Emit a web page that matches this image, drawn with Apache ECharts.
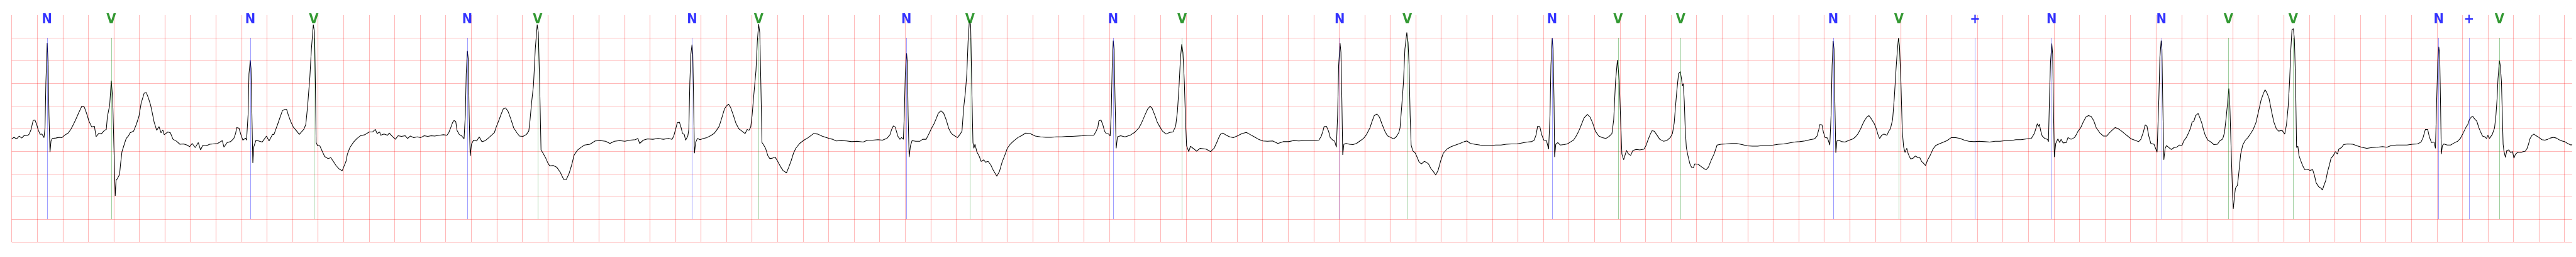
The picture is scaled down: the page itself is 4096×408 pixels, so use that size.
<!DOCTYPE html>
<html><head><meta charset="utf-8">
<script src="https://cdn.jsdelivr.net/npm/echarts@6/dist/echarts.min.js"></script>
<style>html,body{margin:0;padding:0;background:#fff}#c{width:4096px;height:408px}</style>
</head><body><div id="c"></div>
<script>
// Beat annotations (time in s)
const annTimes = [0.277, 0.780, 1.869, 2.366, 3.569, 4.120, 5.331, 5.852, 7.010, 7.508, 8.629, 9.170, 10.404, 10.933, 12.068, 12.585, 13.076, 14.271, 14.785, 15.382, 15.982, 16.842, 17.367, 17.874, 19.014, 19.252, 19.491];
const annLabels = ['N','V','N','V','N','V','N','V','N','V','N','V','N','V','N','V','V','N','V','+','N','N','V','V','N','+','V'];
const labelColors = {'N':'#0000ff','V':'#008000','+':'#0000ff'};
const markerColors = {'N':'rgba(0,0,255,0.55)','V':'rgba(0,128,0,0.55)','+':'rgba(0,0,255,0.55)'};
// Axis ranges (s, mV)
const xRange = [0, 20.06, 0.2];
const yRange = [-2.5, 2.5, 0.5];
const markerSpan = [2.0, -2.0];
const labelLevel = 2.4;
// ECG signal: [time s, mV]
const signal = [
[0,-0.23],[0.018,-0.195],[0.038,-0.23],[0.059,-0.17],[0.079,-0.21],[0.1,-0.148],[0.127,-0.152],[0.138,-0.12],[0.152,-0.02],[0.168,0.177],[0.182,0.188],[0.196,0.087],[0.209,-0.04],[0.223,-0.13],[0.237,-0.12],[0.253,-0.2],[0.261,0.014],[0.268,1.03],[0.278,1.886],[0.285,1.46],[0.292,0.3],[0.3,-0.52],[0.308,-0.27],[0.319,-0.22],[0.346,-0.21],[0.374,-0.195],[0.394,-0.2],[0.415,-0.148],[0.442,-0.1],[0.463,-0.02],[0.483,0.087],[0.504,0.213],[0.524,0.34],[0.549,0.49],[0.568,0.477],[0.586,0.34],[0.606,0.16],[0.627,0.033],[0.648,0.05],[0.661,-0.18],[0.682,-0.11],[0.702,-0.12],[0.727,-0.04],[0.741,-0.02],[0.75,0.267],[0.768,0.52],[0.78,1.055],[0.791,0.665],[0.801,-0.42],[0.811,-1.485],[0.818,-1.14],[0.828,-1.105],[0.845,-1.015],[0.853,-0.78],[0.864,-0.51],[0.883,-0.34],[0.897,-0.22],[0.914,-0.166],[0.928,-0.094],[0.955,-0.058],[0.976,0.087],[0.997,0.267],[1.014,0.556],[1.038,0.78],[1.055,0.79],[1.072,0.665],[1.088,0.52],[1.099,0.376],[1.116,0.14],[1.136,-0.04],[1.154,0.043],[1.17,-0.094],[1.184,-0.03],[1.195,-0.137],[1.223,-0.076],[1.243,-0.094],[1.264,-0.238],[1.291,-0.28],[1.318,-0.347],[1.346,-0.34],[1.373,-0.365],[1.394,-0.4],[1.414,-0.33],[1.438,-0.42],[1.462,-0.31],[1.48,-0.473],[1.496,-0.376],[1.524,-0.383],[1.551,-0.347],[1.578,-0.34],[1.613,-0.33],[1.65,-0.267],[1.663,-0.41],[1.688,-0.31],[1.715,-0.29],[1.74,-0.22],[1.754,-0.112],[1.763,0.022],[1.781,0.007],[1.797,-0.148],[1.811,-0.257],[1.832,-0.213],[1.84,-0.257],[1.852,0.3],[1.859,1.207],[1.869,1.503],[1.875,1.315],[1.882,0.3],[1.889,-0.762],[1.897,-0.4],[1.914,-0.257],[1.934,-0.275],[1.962,-0.3],[1.996,-0.166],[2.016,-0.275],[2.044,-0.13],
[2.055,-0.13],[2.069,-0.02],[2.082,0.08],[2.103,0.25],[2.121,0.394],[2.14,0.42],[2.154,0.42],[2.167,0.3],[2.185,0.16],[2.206,0.033],[2.233,-0.058],[2.253,-0.13],[2.288,-0.02],[2.304,0.087],[2.318,0.484],[2.336,1.134],[2.348,1.75],[2.363,2.29],[2.373,2.11],[2.379,1.026],[2.385,-0.31],[2.397,-0.383],[2.414,-0.383],[2.431,-0.49],[2.452,-0.618],[2.479,-0.665],[2.5,-0.643],[2.52,-0.726],[2.541,-0.816],[2.564,-0.889],[2.589,-0.932],[2.603,-0.835],[2.619,-0.726],[2.63,-0.564],[2.65,-0.42],[2.678,-0.3],[2.705,-0.22],[2.733,-0.159],[2.767,-0.137],[2.801,-0.076],[2.828,-0.076],[2.849,-0.02],[2.863,-0.112],[2.883,-0.076],[2.89,-0.148],[2.917,-0.12],[2.945,-0.148],[2.958,-0.1],[2.979,-0.166],[3.006,-0.238],[3.027,-0.159],[3.054,-0.173],[3.082,-0.159],[3.102,-0.22],[3.123,-0.166],[3.15,-0.2],[3.177,-0.184],[3.205,-0.2],[3.232,-0.159],[3.26,-0.173],[3.287,-0.159],[3.314,-0.166],[3.349,-0.148],[3.383,-0.137],[3.41,-0.148],[3.424,-0.094],[3.44,0.022],[3.454,0.13],[3.465,0.177],[3.479,0.152],[3.489,-0.04],[3.506,-0.13],[3.527,-0.166],[3.544,-0.23],[3.554,0.3],[3.561,1.207],[3.57,1.712],[3.577,1.53],[3.584,0.3],[3.592,-0.607],[3.602,-0.347],[3.618,-0.257],[3.643,-0.275],[3.663,-0.184],[3.684,-0.29],[3.711,-0.267],[3.739,-0.2],[3.766,-0.13],[3.782,-0.087],[3.796,0.033],[3.814,0.16],[3.835,0.32],[3.851,0.43],[3.869,0.455],[3.889,0.376],[3.91,0.213],[3.933,0.014],[3.958,-0.094],[3.978,-0.166],[4.006,-0.173],[4.033,-0.13],[4.051,-0.058],[4.06,0.16],[4.074,0.592],[4.088,0.954],[4.102,1.75],[4.117,2.29],[4.126,2.11],[4.136,1.026],[4.147,-0.473],[4.163,-0.545],[4.184,-0.654],[4.201,-0.762],
[4.215,-0.824],[4.243,-0.816],[4.27,-0.853],[4.297,-0.961],[4.325,-1.124],[4.345,-1.124],[4.366,-0.997],[4.386,-0.816],[4.407,-0.582],[4.434,-0.473],[4.462,-0.412],[4.489,-0.365],[4.53,-0.347],[4.571,-0.275],[4.612,-0.267],[4.653,-0.28],[4.687,-0.33],[4.722,-0.28],[4.763,-0.267],[4.804,-0.28],[4.845,-0.257],[4.886,-0.246],[4.906,-0.22],[4.92,-0.33],[4.948,-0.257],[4.982,-0.23],[5.023,-0.238],[5.064,-0.22],[5.105,-0.238],[5.146,-0.22],[5.173,-0.238],[5.187,-0.166],[5.201,-0.02],[5.215,0.13],[5.231,0.14],[5.245,0.014],[5.256,-0.112],[5.269,-0.13],[5.28,-0.257],[5.297,-0.166],[5.305,-0.02],[5.313,1.026],[5.321,1.64],[5.33,1.85],[5.336,1.64],[5.342,0.665],[5.349,-0.545],[5.358,-0.31],[5.372,-0.22],[5.393,-0.246],[5.42,-0.22],[5.447,-0.2],[5.475,-0.159],[5.502,-0.112],[5.522,-0.04],[5.543,0.05],[5.563,0.231],[5.584,0.43],[5.598,0.49],[5.616,0.538],[5.632,0.466],[5.653,0.3],[5.673,0.123],[5.696,-0.004],[5.721,-0.058],[5.746,-0.112],[5.762,-0.02],[5.776,-0.04],[5.79,0.033],[5.801,0.3],[5.814,0.737],[5.831,1.28],[5.842,1.93],[5.852,2.3],[5.861,2.11],[5.869,1.026],[5.878,-0.31],[5.888,-0.347],[5.906,-0.437],[5.924,-0.6],[5.94,-0.665],[5.961,-0.654],[5.981,-0.63],[5.998,-0.708],[6.022,-0.835],[6.043,-0.925],[6.07,-0.979],[6.088,-0.853],[6.107,-0.708],[6.125,-0.545],[6.143,-0.437],[6.173,-0.33],[6.207,-0.257],[6.241,-0.2],[6.282,-0.112],[6.316,-0.123],[6.348,-0.166],
[6.377,-0.195],[6.404,-0.22],[6.432,-0.238],[6.459,-0.275],[6.5,-0.267],[6.541,-0.275],[6.582,-0.29],[6.623,-0.28],[6.671,-0.3],[6.705,-0.257],[6.746,-0.257],[6.787,-0.246],[6.822,-0.257],[6.856,-0.22],[6.881,-0.137],[6.894,-0.02],[6.908,0.058],[6.922,0.033],[6.931,-0.058],[6.942,-0.166],[6.959,-0.238],[6.972,-0.2],[6.986,-0.238],[6.993,0.3],[7.001,1.207],[7.011,1.66],[7.017,1.46],[7.023,0.3],[7.031,-0.63],[7.041,-0.383],[7.054,-0.267],[7.082,-0.28],[7.116,-0.28],[7.137,-0.238],[7.164,-0.238],[7.187,-0.112],[7.205,-0.004],[7.226,0.105],[7.246,0.238],[7.26,0.34],[7.28,0.39],[7.301,0.34],[7.321,0.195],[7.342,-0.004],[7.362,-0.112],[7.39,-0.166],[7.41,-0.2],[7.431,-0.123],[7.445,-0.058],[7.458,0.448],[7.472,0.81],[7.483,1.207],[7.493,1.93],[7.503,2.38],[7.513,2.29],[7.521,1.026],[7.531,-0.31],[7.538,-0.437],[7.547,-0.347],[7.561,-0.51],[7.581,-0.618],[7.595,-0.726],[7.616,-0.69],[7.629,-0.744],[7.65,-0.726],[7.67,-0.798],[7.691,-0.925],[7.718,-1.051],[7.739,-0.943],[7.759,-0.744],[7.784,-0.564],[7.8,-0.437],[7.821,-0.354],[7.848,-0.28],[7.883,-0.2],[7.91,-0.159],[7.944,-0.1],[7.978,-0.112],[8.02,-0.166],[8.06,-0.184],[8.102,-0.195],[8.143,-0.195],[8.184,-0.184],[8.225,-0.184],[8.266,-0.173],[8.307,-0.173],[8.348,-0.166],[8.389,-0.159],[8.43,-0.148],[8.478,-0.148],
[8.496,-0.058],[8.51,0.033],[8.517,0.166],[8.534,0.188],[8.548,0.087],[8.562,-0.058],[8.575,-0.112],[8.595,-0.123],[8.606,-0.166],[8.614,0.3],[8.622,1.387],[8.63,1.936],[8.637,1.75],[8.644,0.665],[8.653,-0.437],[8.663,-0.184],[8.688,-0.159],[8.722,-0.184],[8.763,-0.148],[8.797,-0.087],[8.831,0.014],[8.852,0.123],[8.879,0.3],[8.9,0.43],[8.918,0.49],[8.934,0.448],[8.955,0.3],[8.975,0.14],[8.996,0.033],[9.016,-0.058],[9.044,-0.123],[9.071,-0.087],[9.098,-0.076],[9.119,0.05],[9.133,0.376],[9.146,0.954],[9.157,1.568],[9.167,1.857],[9.176,1.676],[9.187,1.026],[9.197,0.123],[9.205,-0.383],[9.222,-0.51],[9.235,-0.39],[9.256,-0.437],[9.283,-0.5],[9.311,-0.437],[9.358,-0.455],[9.393,-0.51],[9.42,-0.437],[9.441,-0.31],[9.454,-0.22],[9.471,-0.123],[9.488,-0.1],[9.516,-0.148],[9.543,-0.184],[9.571,-0.2],[9.605,-0.159],[9.639,-0.112],[9.673,-0.087],[9.701,-0.13],[9.735,-0.184],[9.769,-0.238],[9.803,-0.275],[9.838,-0.28],[9.879,-0.275],[9.92,-0.33],[9.961,-0.29],[10.002,-0.29],[10.043,-0.267],[10.084,-0.275],[10.125,-0.267],[10.166,-0.267],[10.207,-0.267],[10.241,-0.257],[10.259,-0.173],[10.273,-0.058],[10.282,0.043],[10.3,0.05],[10.317,-0.058],[10.33,-0.2],[10.351,-0.257],[10.365,-0.28],[10.378,-0.412],[10.388,0.3],[10.396,1.387],[10.407,1.886],[10.414,1.676],[10.421,0.665],[10.428,-0.582],[10.437,-0.347],[10.454,-0.33],[10.481,-0.347],[10.508,-0.354],[10.536,-0.33],[10.563,-0.275],[10.591,-0.22],[10.615,-0.13],[10.641,0.014],
[10.658,0.16],[10.675,0.285],[10.696,0.32],[10.716,0.25],[10.737,0.087],[10.758,-0.058],[10.778,-0.159],[10.806,-0.2],[10.826,-0.23],[10.847,-0.184],[10.867,-0.094],[10.877,0.014],[10.89,0.484],[10.904,1.026],[10.915,1.75],[10.93,2.117],[10.94,1.893],[10.948,1.387],[10.956,0.3],[10.964,-0.365],[10.977,-0.49],[10.997,-0.545],[11.011,-0.636],[11.027,-0.744],[11.045,-0.78],[11.066,-0.726],[11.082,-0.744],[11.1,-0.78],[11.12,-0.889],[11.141,-0.961],[11.157,-1.026],[11.175,-0.925],[11.196,-0.708],[11.216,-0.545],[11.244,-0.455],[11.278,-0.4],[11.312,-0.365],[11.346,-0.33],[11.38,-0.29],[11.401,-0.275],[11.428,-0.33],[11.462,-0.347],[11.503,-0.365],[11.545,-0.376],[11.586,-0.376],[11.627,-0.365],[11.668,-0.365],[11.709,-0.347],[11.75,-0.34],[11.791,-0.34],[11.832,-0.318],[11.873,-0.3],[11.908,-0.29],[11.928,-0.257],[11.942,-0.148],[11.955,0.05],[11.972,0.043],[11.986,-0.13],[12.003,-0.257],[12.024,-0.267],[12.041,-0.455],[12.052,0.3],[12.059,1.387],[12.069,1.994],[12.076,1.75],[12.083,0.665],[12.088,-0.63],[12.097,-0.347],[12.113,-0.31],[12.133,-0.365],[12.161,-0.354],[12.188,-0.34],[12.216,-0.29],[12.236,-0.257],[12.257,-0.166],[12.277,-0.058],[12.298,0.087],[12.318,0.231],[12.345,0.31],[12.366,0.25],[12.386,0.123],[12.407,-0.058],[12.434,-0.166],[12.462,-0.2],[12.489,-0.22],[12.516,-0.173],[12.537,-0.112],[12.551,0.195],[12.565,1.026],[12.58,1.514],[12.588,1.279],[12.596,0.954],[12.606,0.123],[12.615,-0.564],[12.629,-0.69],[12.651,-0.484],[12.667,-0.564],[12.684,-0.592],[12.701,-0.484],[12.729,-0.462],[12.756,-0.473],[12.788,-0.455],
[12.803,-0.383],[12.819,-0.257],[12.837,-0.13],[12.851,-0.05],[12.868,-0.058],[12.888,-0.137],[12.912,-0.238],[12.94,-0.28],[12.967,-0.267],[12.994,-0.2],[13.011,-0.112],[13.025,0.123],[13.035,0.484],[13.046,0.845],[13.059,1.207],[13.072,1.254],[13.082,1.098],[13.089,0.936],[13.096,0.99],[13.104,0.592],[13.111,0.014],[13.12,-0.42],[13.134,-0.618],[13.148,-0.78],[13.161,-0.853],[13.175,-0.87],[13.186,-0.78],[13.213,-0.788],[13.234,-0.835],[13.261,-0.889],[13.275,-0.907],[13.293,-0.853],[13.316,-0.69],[13.337,-0.564],[13.361,-0.365],[13.391,-0.347],[13.432,-0.34],[13.473,-0.33],[13.514,-0.33],[13.556,-0.354],[13.597,-0.383],[13.638,-0.39],[13.679,-0.39],[13.72,-0.376],[13.761,-0.376],[13.802,-0.365],[13.843,-0.347],[13.884,-0.34],[13.925,-0.318],[13.966,-0.3],[14.007,-0.29],[14.048,-0.275],[14.09,-0.246],[14.124,-0.23],[14.144,-0.166],[14.158,-0.02],[14.165,0.087],[14.183,0.08],[14.192,-0.058],[14.206,-0.195],[14.226,-0.21],[14.244,-0.365],[14.254,0.3],[14.262,1.387],[14.27,1.93],[14.277,1.75],[14.283,0.665],[14.291,-0.535],[14.3,-0.275],[14.315,-0.257],[14.336,-0.29],[14.363,-0.3],[14.397,-0.257],[14.425,-0.23],[14.445,-0.184],[14.466,-0.112],[14.486,-0.004],[14.5,0.087],[14.516,0.177],[14.534,0.25],[14.551,0.285],[14.569,0.213],[14.593,0.105],[14.61,-0.02],[14.62,-0.123],[14.634,-0.22],[14.651,-0.148],[14.667,-0.123],[14.692,-0.148],[14.706,-0.058],[14.719,-0.004],[14.736,0.195],[14.749,0.665],[14.763,1.315],[14.774,1.75],[14.782,1.994],[14.79,1.82],[14.801,1.026],[14.812,-0.058],[14.822,-0.4],[14.833,-0.527],[14.847,-0.437],[14.859,-0.564],[14.877,-0.672],[14.897,-0.654],[14.914,-0.607],[14.936,-0.643],
[14.949,-0.643],[14.963,-0.726],[14.977,-0.762],[14.993,-0.816],[15.011,-0.69],[15.032,-0.582],[15.052,-0.455],[15.073,-0.376],[15.1,-0.34],[15.127,-0.31],[15.162,-0.267],[15.196,-0.2],[15.23,-0.2],[15.264,-0.22],[15.298,-0.257],[15.333,-0.28],[15.374,-0.29],[15.415,-0.28],[15.456,-0.29],[15.497,-0.3],[15.538,-0.28],[15.579,-0.28],[15.62,-0.267],[15.661,-0.267],[15.702,-0.246],[15.743,-0.246],[15.785,-0.23],[15.823,-0.22],[15.846,-0.112],[15.86,0.014],[15.87,0.105],[15.88,0.05],[15.886,0.094],[15.897,-0.058],[15.908,-0.166],[15.928,-0.22],[15.949,-0.238],[15.957,-0.29],[15.965,0.665],[15.973,1.46],[15.983,1.875],[15.99,1.64],[15.995,0.665],[16.003,-0.63],[16.014,-0.33],[16.031,-0.23],[16.045,-0.31],[16.056,-0.238],[16.072,-0.318],[16.097,-0.31],[16.11,-0.2],[16.134,-0.238],[16.161,-0.2],[16.175,-0.137],[16.189,-0.058],[16.209,0.014],[16.229,0.14],[16.25,0.25],[16.27,0.285],[16.291,0.267],[16.311,0.177],[16.332,0.014],[16.359,-0.094],[16.387,-0.166],[16.414,-0.166],[16.435,-0.094],[16.455,-0.04],[16.48,0.022],[16.503,-0.004],[16.53,-0.058],[16.558,-0.123],[16.585,-0.184],[16.606,-0.23],[16.633,-0.257],[16.663,-0.29],[16.681,-0.238],[16.699,-0.094],[16.715,0.08],[16.729,0.05],[16.743,-0.166],[16.759,-0.33],[16.784,-0.347],[16.808,-0.52],[16.822,0.665],[16.83,1.568],[16.84,1.936],[16.846,1.75],[16.852,0.665],[16.861,-0.69],[16.871,-0.437],[16.882,-0.376],[16.907,-0.437],[16.921,-0.462],[16.941,-0.42],[16.962,-0.412],[16.982,-0.365],[17.003,-0.376],[17.017,-0.275],[17.037,-0.2],[17.055,-0.094],[17.071,0.014],[17.082,0.14],
[17.096,0.16],[17.11,0.285],[17.13,0.332],[17.144,0.231],[17.158,0.123],[17.171,-0.02],[17.185,-0.148],[17.206,-0.257],[17.226,-0.29],[17.253,-0.354],[17.281,-0.347],[17.299,-0.275],[17.322,-0.23],[17.336,-0.094],[17.349,0.231],[17.36,0.556],[17.37,0.881],[17.378,0.52],[17.386,-0.238],[17.394,-0.961],[17.4,-1.503],[17.405,-1.774],[17.414,-1.503],[17.422,-1.315],[17.438,-1.25],[17.449,-0.961],[17.463,-0.564],[17.479,-0.365],[17.5,-0.257],[17.52,-0.2],[17.541,-0.112],[17.561,-0.02],[17.582,0.123],[17.603,0.376],[17.623,0.629],[17.641,0.773],[17.654,0.853],[17.668,0.79],[17.685,0.665],[17.705,0.376],[17.723,0.14],[17.742,-0.004],[17.76,-0.058],[17.787,-0.04],[17.808,-0.123],[17.822,0.087],[17.835,0.484],[17.846,1.026],[17.856,1.75],[17.865,2.18],[17.876,2.2],[17.884,1.965],[17.893,1.026],[17.901,-0.42],[17.911,-0.39],[17.92,-0.6],[17.931,-0.69],[17.948,-0.816],[17.965,-0.907],[17.986,-0.896],[18.006,-0.925],[18.027,-0.907],[18.041,-1.033],[18.054,-1.196],[18.075,-1.286],[18.093,-1.315],[18.103,-1.358],[18.116,-1.25],[18.13,-1.142],[18.143,-0.961],[18.157,-0.816],[18.171,-0.654],[18.188,-0.6],[18.205,-0.51],[18.221,-0.564],[18.232,-0.455],[18.253,-0.42],[18.27,-0.354],[18.301,-0.34],[18.342,-0.347],[18.376,-0.383],[18.41,-0.412],[18.451,-0.437],[18.492,-0.42],[18.533,-0.412],[18.574,-0.4],[18.609,-0.412],[18.643,-0.376],[18.684,-0.365],[18.725,-0.365],[18.766,-0.365],[18.807,-0.347],[18.848,-0.34],[18.876,-0.3],[18.892,-0.2],[18.91,-0.02],[18.928,-0.02],[18.941,-0.184],[18.958,-0.31],[18.978,-0.3],[18.989,-0.437],[18.999,0.665],[19.007,1.46],[19.015,1.8],[19.022,1.64],[19.028,0.665],[19.035,-0.564],[19.043,-0.383],[19.054,-0.34],[19.081,-0.365],[19.108,-0.365],[19.136,-0.318],[19.163,-0.28],[19.184,-0.22],[19.201,-0.13],[19.229,0.033],
[19.242,0.087],[19.255,0.195],[19.269,0.25],[19.282,0.267],[19.295,0.213],[19.313,0.16],[19.327,0.033],[19.34,-0.058],[19.358,-0.166],[19.376,-0.184],[19.389,-0.22],[19.4,-0.148],[19.412,-0.22],[19.421,-0.238],[19.434,-0.13],[19.452,0.014],[19.463,0.3],[19.472,0.665],[19.479,1.098],[19.49,1.496],[19.497,1.387],[19.506,1.026],[19.513,0.3],[19.519,-0.347],[19.525,-0.49],[19.537,-0.636],[19.548,-0.484],[19.564,-0.473],[19.577,-0.527],[19.593,-0.51],[19.604,-0.654],[19.615,-0.571],[19.635,-0.52],[19.658,-0.527],[19.676,-0.51],[19.693,-0.5],[19.707,-0.437],[19.718,-0.347],[19.729,-0.23],[19.743,-0.159],[19.76,-0.123],[19.778,-0.159],[19.801,-0.2],[19.823,-0.246],[19.846,-0.257],[19.868,-0.238],[19.89,-0.21],[19.913,-0.195],[19.935,-0.21],[19.957,-0.246],[19.98,-0.275],[20.002,-0.29],[20.024,-0.33],[20.051,-0.365],[20.06,-0.354]
];

const chart = echarts.init(document.getElementById('c'), null, {renderer: 'canvas'});
const gridLine = {show: true, showMaxLine: false, lineStyle: {color: 'rgba(255,0,0,0.28)', width: 1.2}};
const hidden = {show: false};
chart.setOption({
  animation: false,
  backgroundColor: '#ffffff',
  grid: {left: 18.6, right: 6.1, top: 24, bottom: 24},
  xAxis: {type: 'value', min: xRange[0], max: xRange[1], interval: xRange[2],
    axisLine: hidden, axisTick: hidden, axisLabel: hidden, splitLine: gridLine},
  yAxis: {type: 'value', min: yRange[0], max: yRange[1], interval: yRange[2],
    axisLine: hidden, axisTick: hidden, axisLabel: hidden, splitLine: gridLine},
  series: [
    {type: 'line', data: [], z: 2, silent: true,
     markLine: {silent: true, symbol: ['none','none'], label: {show: false}, animation: false,
       data: annTimes.map((t, i) => [
         {coord: [t, markerSpan[0]], lineStyle: {color: markerColors[annLabels[i]], width: 0.7, type: 'solid'}},
         {coord: [t, markerSpan[1]]}
       ])}},
    {type: 'line', data: signal, z: 3, showSymbol: false, symbol: 'none', silent: true,
     lineStyle: {color: '#000000', width: 1.05}},
    {type: 'scatter', z: 4, silent: true, symbolSize: 1, itemStyle: {color: 'rgba(0,0,0,0)'},
     data: annTimes.map((t, i) => ({value: [t, labelLevel],
       label: {show: true, position: 'inside', formatter: annLabels[i], color: labelColors[annLabels[i]],
         fontFamily: "'Liberation Sans Narrow', 'DejaVu Sans Condensed', 'Liberation Sans', sans-serif",
         fontWeight: 'bold', fontSize: 21.8}}))}
  ]
});
</script>
</body></html>
